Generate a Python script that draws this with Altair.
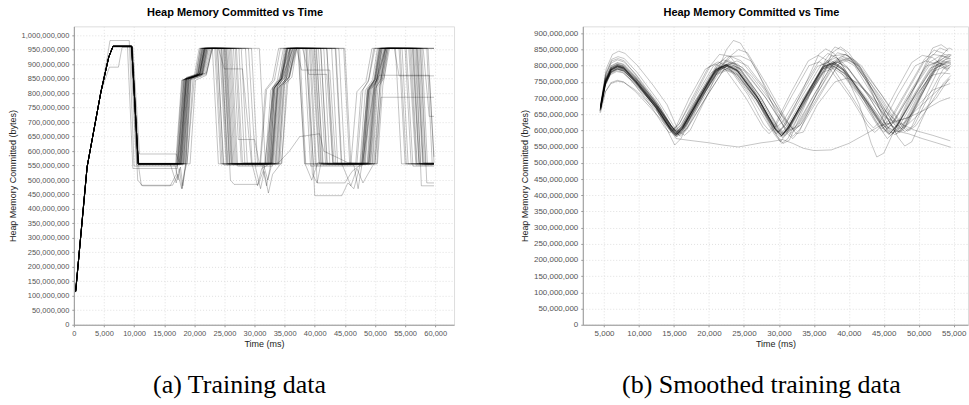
import altair as alt
import pandas as pd

TITLE = "Heap Memory Committed vs Time"
X_TITLE = "Time (ms)"
Y_TITLE = "Heap Memory Committed (bytes)"
CAPTIONS = ["(a) Training data", "(b) Smoothed training data"]

LEFT_X_TICKS = [0, 5000, 10000, 15000, 20000, 25000, 30000, 35000, 40000, 45000, 50000, 55000, 60000]
LEFT_Y_TICKS_M = [0, 50, 100, 150, 200, 250, 300, 350, 400, 450, 500, 550, 600, 650, 700, 750, 800, 850, 900, 950, 1000]
RIGHT_X_TICKS = [5000, 10000, 15000, 20000, 25000, 30000, 35000, 40000, 45000, 50000, 55000]
RIGHT_Y_TICKS_M = [0, 50, 100, 150, 200, 250, 300, 350, 400, 450, 500, 550, 600, 650, 700, 750, 800, 850, 900]

# (time ms, committed heap in millions of bytes)
LEFT_RUNS = [
    [(300,115),(2200,545),(4500,805),(5800,925),(6500,962),(9600,962),(10600,556),(17800,556),(18800,850),(20900,866),(21700,955),(24600,955),(25500,556),(32600,556),(33400,822),(34600,852),(35600,955),(39900,955),(41000,556),(48700,556),(49500,818),(50600,850),(51400,955),(56600,955),(57600,556),(59800,556)],
    [(250,112),(2150,540),(4450,800),(5750,922),(6450,960),(9700,960),(10800,553),(18000,553),(19000,848),(21100,862),(21900,955),(24200,955),(25300,553),(32200,553),(33100,812),(34400,848),(35300,955),(40200,955),(41400,553),(48400,553),(49300,812),(50300,845),(51200,955),(56900,955),(57900,553),(59700,553)],
    [(350,118),(2250,550),(4550,808),(5850,928),(6550,965),(9500,965),(10500,558),(17600,558),(18600,852),(20700,870),(21500,955),(25000,955),(25900,558),(32800,558),(33600,826),(34800,856),(35800,955),(39500,955),(40700,558),(48900,558),(49800,822),(50800,855),(51600,955),(56200,955),(57300,558),(59800,558)],
    [(300,116),(2200,546),(4500,806),(5800,926),(6500,960),(9400,960),(10400,552),(16800,552),(17300,500),(17700,545),(18100,480),(18500,540),(19200,845),(21200,860),(22200,955),(23800,955),(24900,552),(31500,552),(32200,500),(32700,540),(33900,830),(35900,955),(38500,955),(39800,552),(46500,552),(47200,470),(47800,548),(49900,820),(51600,955),(55600,955),(56800,552),(59600,552)],
    [(280,114),(2180,543),(4480,803),(5600,930),(6000,982),(9200,982),(10000,548),(17200,548),(18500,845),(20500,858),(21400,955),(26200,955),(27200,548),(33000,548),(34000,818),(35200,850),(36200,955),(38200,955),(39300,548),(47800,548),(48800,810),(49800,842),(50600,955),(55200,955),(56300,548),(59800,548)],
    [(320,117),(2220,548),(4520,806),(5900,890),(7400,890),(8000,958),(9800,958),(10900,590),(17000,590),(17500,560),(18700,855),(21000,868),(21800,955),(27000,955),(28000,560),(33200,560),(34200,830),(36400,955),(42000,955),(43000,560),(49000,560),(50000,826),(51800,955),(57000,955),(58000,560),(59800,560)],
    [(300,115),(2200,545),(4500,805),(5800,925),(6500,962),(9700,962),(10800,540),(11200,482),(16400,482),(17300,520),(17900,470),(18600,560),(19400,850),(21400,866),(22400,955),(28500,955),(29600,555),(30500,480),(31200,540),(32900,560),(33800,815),(35300,850),(36000,955),(40600,955),(41800,555),(49200,555),(50100,816),(51000,850),(51800,955),(57300,955),(58200,555),(59800,555)],
    [(310,116),(2210,546),(4510,806),(5810,926),(6510,963),(9650,963),(10650,555),(18200,555),(19100,850),(21300,865),(22100,955),(25300,955),(26300,555),(34000,555),(34800,830),(36300,955),(41000,955),(42100,555),(49500,555),(50300,830),(51700,955),(57800,955),(58700,555),(59800,555)],
    [(300,115),(2200,545),(4500,805),(5800,925),(6500,962),(9600,962),(10700,556),(17500,556),(18500,850),(20800,866),(21600,955),(24000,955),(25000,884),(28000,884),(29500,556),(33000,556),(33900,822),(35000,855),(35900,955),(38000,955),(39000,865),(42000,865),(43000,556),(48000,556),(49000,812),(50000,848),(50800,955),(53200,955),(54000,860),(59800,860)],
    [(300,115),(2200,545),(4500,805),(5800,925),(6500,962),(9600,962),(10700,556),(18400,556),(19400,855),(21600,870),(22600,955),(26000,955),(27000,556),(31800,556),(32700,810),(33800,845),(34800,955),(37200,955),(38400,556),(39500,500),(40500,560),(47000,556),(48000,812),(49000,848),(50000,955),(54200,955),(55200,556),(59800,556)],
    [(300,115),(2200,545),(4500,805),(5800,925),(6500,962),(9600,962),(10700,556),(17900,556),(18900,850),(21000,866),(21800,955),(25800,955),(26800,556),(33000,556),(34000,560),(35800,600),(37500,650),(40800,660),(41500,600),(45500,560),(48000,556),(49000,818),(50200,852),(51000,955),(58000,955),(59000,720),(59800,720)],
    [(300,115),(2200,545),(4500,805),(5800,925),(6500,962),(9600,962),(10700,556),(17300,556),(18300,848),(20600,862),(21300,955),(23600,955),(24600,556),(31200,556),(32000,480),(32600,545),(33300,820),(34500,852),(35400,955),(39300,955),(40400,490),(41000,556),(47500,556),(48400,810),(49600,846),(50400,955),(55800,955),(56900,556),(59800,556)],
    [(300,115),(2200,545),(4500,805),(5800,925),(6500,962),(9600,962),(10700,556),(18100,556),(19000,850),(21200,866),(22000,955),(29500,955),(30500,556),(33800,556),(34600,826),(35800,858),(36800,955),(44000,955),(45000,556),(50000,556),(51000,786),(58000,786),(59800,786)],
    [(300,115),(2200,545),(4500,805),(5800,925),(6500,962),(9600,962),(10700,556),(17700,556),(18700,852),(20900,868),(21700,955),(24800,955),(25800,556),(32400,556),(33200,820),(34400,850),(35400,955),(40300,955),(41300,556),(48300,556),(49200,815),(50400,850),(51200,955),(56400,955),(57400,556),(59800,556)],
    [(300,115),(2200,545),(4500,805),(5800,925),(6500,962),(9600,962),(10700,556),(17600,556),(18600,850),(20800,866),(21600,955),(25200,955),(26200,556),(32000,556),(33000,818),(34200,850),(35000,955),(38800,955),(40000,446),(44500,446),(45500,490),(46500,470),(47600,556),(48800,815),(50000,848),(50800,955),(56800,955),(57700,480),(59800,480)],
    [(300,115),(2200,545),(4500,805),(5800,925),(6500,962),(9600,962),(10700,556),(18600,556),(19500,852),(21800,868),(22800,955),(27800,955),(28800,556),(33400,556),(34300,826),(35500,858),(36400,955),(42800,955),(43800,556),(49600,556),(50500,822),(51500,852),(52200,955),(58600,955),(59500,556),(59800,556)],
    [(300,115),(2200,545),(4500,805),(5800,925),(6500,962),(9600,962),(10700,556),(17400,556),(18400,848),(20500,862),(21200,955),(24400,955),(25400,556),(32700,556),(33700,822),(34900,855),(35900,955),(40000,955),(41100,556),(48100,556),(48900,810),(50000,845),(50900,955),(56000,955),(57000,556),(59800,556)],
    [(300,115),(2200,545),(4500,805),(5800,925),(6500,962),(9600,962),(10700,556),(18300,556),(19200,852),(21400,866),(22300,955),(25600,955),(26600,556),(32300,556),(33200,816),(34500,850),(35500,955),(41500,955),(42500,556),(48800,556),(49700,820),(50700,862),(57500,862),(59000,862),(59800,580)],
    [(300,115),(2200,545),(4500,805),(5800,925),(6500,962),(9600,962),(10700,556),(17000,556),(18000,845),(20300,860),(21000,955),(23900,955),(24800,556),(31000,556),(32000,812),(33300,845),(34300,955),(37500,955),(38500,556),(46000,556),(47000,805),(48500,840),(49500,955),(54500,955),(55500,556),(59800,556)],
    [(300,115),(2200,545),(4500,805),(5800,925),(6500,962),(9600,962),(10700,556),(16000,556),(17000,490),(17500,540),(18000,470),(18400,530),(18800,560),(20000,850),(22000,866),(23000,955),(29000,955),(30200,540),(31000,470),(31600,530),(32300,455),(33000,520),(34500,560),(35500,830),(37000,955),(43500,955),(44500,556),(46000,480),(47000,540),(48000,490),(49800,556),(50800,820),(52000,955),(58800,955),(59800,560)],
    [(300,115),(2200,545),(4500,805),(5800,925),(6500,962),(9600,962),(10700,556),(17800,556),(18700,850),(20900,866),(21700,955),(25100,955),(26100,556),(32900,556),(33800,824),(35100,855),(36000,955),(39700,955),(40800,556),(49000,556),(49900,820),(50900,852),(51700,955),(57100,955),(58000,556),(59800,556)],
    [(300,115),(2200,545),(4500,805),(5800,925),(6500,962),(9600,962),(10700,556),(18800,556),(19800,856),(22000,870),(23000,955),(24500,955),(25600,556),(34200,556),(35000,830),(36600,955),(39100,955),(40100,556),(50000,556),(50800,826),(52000,955),(56300,955),(57300,556),(59800,556)],
    [(300,115),(2200,545),(4500,805),(5800,925),(6500,962),(8900,962),(9800,540),(17200,540),(18200,845),(20600,862),(21400,955),(30800,955),(31800,556),(34500,556),(35300,830),(36900,955),(45000,955),(46000,556),(50300,556),(51000,826),(52200,955),(59800,955)],
    [(300,115),(2200,545),(4500,805),(5800,925),(6500,962),(9600,962),(10700,556),(17900,556),(18900,850),(21100,866),(21900,955),(26800,955),(27800,556),(32100,556),(33000,818),(34200,850),(35200,955),(42000,955),(43200,556),(47800,556),(48700,812),(49900,848),(50700,955),(59800,955)],
    [(300,115),(2200,545),(4500,805),(5800,925),(6500,962),(9600,962),(10700,556),(19300,556),(20200,845),(22000,862),(22900,955),(27400,955),(28400,556),(34000,556),(34900,828),(36200,855),(37000,955),(43400,955),(44400,556),(50400,556),(51300,826),(52400,955),(59800,955)],
    [(300,115),(2200,545),(4500,805),(5800,925),(6500,962),(9600,962),(10700,556),(16900,556),(17900,845),(20000,858),(20800,955),(23400,955),(24400,556),(30900,556),(31800,812),(33000,845),(34000,955),(37300,955),(38300,556),(46800,556),(47700,805),(48900,840),(49800,955),(53400,955),(54400,556),(59800,556)],
    [(300,115),(2200,545),(4500,805),(5800,925),(6500,962),(9600,962),(10700,556),(18200,556),(19100,850),(21300,866),(22100,955),(26500,955),(27300,640),(30000,640),(30800,556),(33500,556),(34400,824),(35700,855),(36600,955),(41000,955),(42000,556),(49300,556),(50200,822),(51300,852),(52000,955),(57500,955),(58400,556),(59800,556)],
    [(300,115),(2200,545),(4500,805),(5800,925),(6500,962),(9600,962),(10700,556),(17700,556),(18700,850),(20900,866),(21700,955),(25400,955),(26400,556),(32500,556),(33400,820),(34600,852),(35500,955),(37000,955),(37800,880),(42500,880),(43500,556),(49100,556),(50000,818),(51000,850),(51800,955),(55000,955),(56000,556),(59800,556)],
    [(300,115),(2200,545),(4500,805),(5800,925),(6500,962),(9600,962),(10600,500),(11400,480),(16000,480),(17000,520),(18300,848),(20400,862),(21200,955),(24900,955),(26000,500),(26600,485),(30600,485),(31600,540),(33200,815),(34400,850),(35300,955),(38600,955),(39600,520),(40400,490),(45000,490),(46200,530),(47800,556),(48900,810),(50100,846),(51000,955),(57600,955),(58600,490),(59800,490)],
    [(300,115),(2200,545),(4500,805),(5800,925),(6500,962),(9600,962),(10700,556),(17100,556),(18100,846),(20200,860),(21000,955),(23000,955),(24000,556),(33600,556),(34500,826),(35800,856),(36700,955),(44800,955),(45800,556),(48200,556),(49100,812),(50300,846),(51100,955),(54000,955),(55000,556),(59800,556)],
]

RIGHT_RUNS = [
    [(4500,672),(5200,752),(6000,790),(6900,800),(7800,794),(9500,750),(12500,670),(14600,605),(15300,590),(16200,612),(18500,700),(21000,790),(22500,805),(24000,788),(27000,700),(29600,605),(30500,588),(31400,612),(34000,710),(36500,800),(38000,810),(39500,785),(42500,700),(45200,610),(46000,595),(47000,618),(49500,710),(52000,795),(53500,810),(54500,812)],
    [(4400,660),(5100,740),(5900,775),(6800,785),(7700,780),(9400,742),(12400,665),(14400,600),(15200,582),(16100,605),(18300,690),(20800,780),(22300,795),(23800,780),(26800,695),(29300,600),(30200,580),(31100,605),(33800,700),(36200,792),(37700,800),(39200,778),(42200,695),(44900,605),(45700,588),(46700,610),(49200,700),(51700,785),(53200,800),(54400,795)],
    [(4600,685),(5300,775),(6100,815),(7000,822),(7900,815),(9600,770),(12600,680),(14700,612),(15400,595),(16300,620),(18700,710),(21200,800),(22700,818),(24200,800),(27200,710),(29800,610),(30700,590),(31600,618),(34200,720),(36700,812),(38200,825),(39700,798),(42700,710),(45400,615),(46200,600),(47200,625),(49700,720),(52200,808),(53700,825),(54600,822)],
    [(4500,668),(5200,720),(6000,748),(6900,755),(7800,750),(9500,720),(12500,650),(14600,598),(15300,582),(16200,600),(18500,690),(21000,775),(22500,790),(24000,775),(27000,690),(29600,598),(30500,578),(31400,600),(34000,700),(36500,788),(38000,798),(39500,775),(42500,690),(45200,600),(46000,585),(47000,605),(49500,700),(52000,782),(53500,795),(54400,790)],
    [(4600,690),(5300,790),(6200,835),(7100,845),(8000,838),(9800,800),(12000,740),(14000,680),(15600,600),(16500,585),(17300,600),(20000,720),(22500,850),(23500,878),(24500,870),(27000,780),(29500,660),(31200,590),(32000,575),(33000,600),(35500,720),(37600,840),(38800,858),(40000,840),(42500,760),(44500,660),(45500,600),(46300,590),(47500,640),(50000,760),(52000,855),(53200,865),(54200,850)],
    [(4500,665),(5200,745),(6000,782),(6900,792),(7800,787),(9500,745),(12500,668),(14500,600),(15300,575),(17000,570),(20000,562),(22000,555),(24200,549),(26000,556),(27500,562),(29000,566),(30500,572),(32000,560),(33500,545),(35000,538),(37500,540),(40000,560),(42500,590),(44500,615),(46500,625),(48500,640),(51000,690),(53000,730),(54500,760)],
    [(4400,655),(5100,735),(5900,772),(6800,782),(7700,778),(9300,748),(12300,675),(14200,615),(15000,598),(15900,615),(18000,690),(20500,772),(22000,790),(23500,780),(26500,700),(29000,615),(29900,595),(30800,615),(33500,712),(36000,802),(37500,815),(39000,795),(42000,710),(44600,625),(45400,605),(46400,625),(49000,720),(51500,800),(53000,815),(54300,812)],
    [(4500,675),(5200,758),(6000,795),(6900,805),(7800,800),(9600,760),(12800,680),(14800,608),(15600,590),(16500,612),(19000,700),(21800,800),(23200,828),(24600,815),(27800,730),(30500,630),(31600,600),(32500,615),(35000,710),(37500,800),(39200,820),(40800,800),(43500,705),(46000,620),(46900,600),(47800,620),(50200,720),(52500,800),(53800,820),(54600,815)],
    [(4500,670),(5200,748),(6000,786),(6900,796),(7800,790),(9400,752),(12300,672),(14300,605),(15100,588),(16000,608),(18000,690),(20300,778),(21800,798),(23300,785),(26200,700),(28700,610),(29600,590),(30500,610),(33000,705),(35500,798),(37000,810),(38500,790),(41500,705),(44200,612),(45000,595),(46000,615),(48500,710),(51000,798),(52500,812),(54000,800)],
    [(4500,668),(5200,750),(6000,788),(6900,798),(7800,793),(9500,755),(12500,672),(14600,600),(15400,580),(16300,598),(18700,690),(21200,785),(22700,800),(24200,782),(27200,690),(29700,585),(30600,560),(31500,570),(34000,690),(36700,820),(38000,858),(39400,845),(42300,760),(44800,650),(45600,620),(46500,630),(49000,720),(51500,810),(53000,830),(54500,828)],
    [(4500,672),(5200,752),(6000,790),(6900,800),(7800,795),(9500,755),(12500,675),(14500,606),(15300,588),(16200,608),(18500,695),(21000,785),(22500,800),(24000,785),(27000,700),(29500,605),(30400,585),(31300,610),(34000,710),(36500,798),(38000,805),(39600,780),(42500,690),(45000,615),(46500,600),(48500,590),(50500,575),(52500,562),(54600,548)],
    [(4500,670),(5200,750),(6000,788),(6900,798),(7800,792),(9500,752),(12500,670),(14500,604),(15300,586),(16200,606),(18500,695),(21000,788),(22500,802),(24000,786),(27000,700),(29500,604),(30400,584),(31300,608),(33800,705),(36300,798),(37800,812),(39200,790),(41500,680),(43200,560),(44000,518),(45000,530),(46500,600),(49000,720),(51500,820),(53000,855),(54200,845)],
    [(4500,674),(5200,755),(6000,792),(6900,802),(7800,797),(9500,758),(12500,676),(14600,608),(15400,590),(16300,610),(18600,698),(21100,788),(22600,805),(24100,790),(27100,705),(29700,608),(30600,588),(31500,612),(34500,715),(37200,805),(39000,830),(40500,818),(43500,720),(46300,625),(47200,600),(48200,620),(50500,715),(52800,800),(54000,812),(54600,810)],
    [(4500,666),(5200,744),(6000,782),(6900,792),(7800,787),(9500,748),(12500,668),(14500,602),(15300,584),(16200,604),(18500,692),(21000,782),(22500,797),(24000,782),(27000,696),(29500,602),(30400,582),(31300,606),(33800,702),(36300,795),(37800,808),(39300,786),(42300,700),(45000,608),(45800,592),(47500,600),(50000,650),(52500,700),(54300,760)],
    [(4500,678),(5200,760),(6000,798),(6900,808),(7800,803),(9400,768),(12200,690),(14100,625),(14900,605),(15800,622),(17800,700),(20200,800),(21500,835),(23000,830),(26000,740),(28600,640),(29600,610),(30500,625),(33000,715),(35600,810),(37000,838),(38400,822),(41300,730),(44000,640),(44800,615),(45800,632),(48300,725),(50800,820),(52200,848),(53600,838)],
    [(4500,662),(5200,742),(6000,780),(6900,790),(7800,785),(9500,750),(12600,672),(14800,610),(15700,592),(16600,610),(19200,700),(21800,790),(23300,808),(24800,795),(28000,705),(30800,612),(31800,592),(32700,612),(35500,715),(38200,810),(39700,822),(41300,800),(44500,705),(47200,612),(48000,596),(49000,612),(51300,720),(53300,810),(54500,830)],
    [(4500,668),(5200,746),(6000,784),(6900,794),(7800,789),(9500,752),(12400,670),(14300,590),(15100,555),(16000,575),(18200,680),(20800,782),(22300,800),(23800,785),(26800,695),(29300,590),(30200,565),(31100,590),(33600,700),(36200,795),(37600,808),(39000,790),(42000,700),(44700,600),(45500,575),(46500,595),(49000,700),(51600,792),(53000,808),(54400,800)],
    [(4500,670),(5200,750),(6000,788),(6900,798),(7800,792),(9600,758),(12600,680),(14600,612),(15400,596),(16300,614),(18800,702),(21300,792),(22800,806),(24300,792),(27300,705),(29900,612),(30800,592),(31700,614),(34200,712),(36800,800),(38300,812),(39800,795),(42800,712),(45300,640),(46500,628),(48500,640),(51000,665),(53000,690),(54500,702)],
    [(4500,676),(5200,756),(6000,794),(6900,804),(7800,798),(9500,762),(12500,680),(14500,612),(15300,594),(16200,614),(18400,700),(20900,790),(22400,804),(23900,790),(26900,705),(29400,610),(30300,590),(31200,614),(33700,708),(36200,790),(37700,798),(39500,775),(42500,720),(45000,665),(47000,625),(49500,600),(52000,585),(54500,568)],
    [(4500,664),(5200,742),(6000,779),(6900,789),(7800,784),(9500,748),(12500,668),(14600,600),(15400,582),(16300,602),(18600,692),(21100,785),(22600,800),(24100,785),(27100,698),(29600,602),(30500,582),(31400,604),(34000,705),(36700,805),(38400,840),(40000,830),(42500,760),(45500,640),(46800,590),(47800,600),(50000,700),(52300,805),(53600,835),(54600,832)],
    [(4500,680),(5200,762),(6000,800),(6900,810),(7800,805),(9400,770),(12300,690),(14400,618),(15200,598),(16100,618),(18100,705),(20600,798),(22100,818),(23600,805),(26600,715),(29100,618),(30000,595),(30900,615),(33300,720),(35700,835),(36700,852),(37900,838),(40900,740),(43800,630),(44700,605),(45700,620),(48200,715),(50700,810),(52000,835),(53500,830),(54500,820)],
    [(4500,668),(5200,748),(6000,786),(6900,796),(7800,791),(9600,752),(12700,672),(14700,604),(15500,586),(16400,606),(18800,695),(21400,790),(22900,808),(24400,792),(27500,700),(30000,602),(30900,584),(31800,606),(34300,705),(36900,800),(38400,812),(39900,790),(43000,700),(45700,605),(46600,586),(47600,606),(50000,705),(52500,795),(53900,808),(54600,806)],
    [(4500,655),(5200,720),(6000,745),(6900,752),(7800,749),(9500,725),(12500,660),(14500,605),(15300,590),(16200,608),(18500,690),(21000,772),(22500,785),(24000,772),(27000,690),(29500,602),(30400,585),(31300,605),(33800,700),(36300,780),(37800,792),(39300,770),(42300,690),(45000,605),(45800,590),(46800,610),(49300,700),(51800,770),(53300,778),(54500,775)],
    [(4500,680),(5200,770),(6000,808),(6900,818),(7800,812),(9500,775),(12500,690),(14600,615),(15400,597),(16300,615),(18600,705),(21000,800),(22500,828),(24500,830),(26000,815),(28500,720),(30800,630),(31800,600),(32800,620),(35300,720),(37800,810),(39300,825),(40800,805),(43800,715),(46300,625),(47200,605),(48200,625),(50700,725),(53000,815),(54300,835),(54700,833)],
    [(4500,670),(5200,750),(6000,788),(6900,798),(7800,793),(9800,750),(13000,665),(15000,600),(15800,585),(16800,605),(19500,700),(22500,800),(24000,815),(25500,800),(28500,715),(31200,625),(32200,600),(33200,620),(36000,720),(38800,812),(40200,825),(41800,800),(44800,705),(47500,615),(48400,598),(49400,618),(51500,710),(53500,790),(54600,805)],
    [(4400,662),(5100,742),(5900,780),(6800,790),(7700,784),(9000,752),(11800,672),(13600,612),(14400,592),(15300,612),(17200,700),(19500,790),(20900,805),(22300,790),(25300,700),(27700,610),(28600,590),(29500,612),(31800,705),(34300,800),(35800,812),(37300,790),(40300,700),(42800,612),(43700,594),(44700,614),(47000,710),(49500,800),(51000,815),(52500,805),(54200,785)],
    [(4500,672),(5200,752),(6000,790),(6900,800),(7800,794),(9500,756),(12500,675),(14600,606),(15400,588),(16300,608),(18600,700),(21100,795),(22600,812),(24100,805),(26000,770),(28500,700),(31000,630),(32500,590),(33500,595),(35500,680),(38000,750),(39800,762),(41500,745),(44000,680),(46300,610),(47200,595),(48200,615),(50400,710),(52600,795),(54000,810)],
    [(4500,668),(5200,748),(6000,786),(6900,796),(7800,790),(9500,752),(12500,672),(14500,604),(15300,586),(16200,606),(18500,695),(21000,788),(22500,802),(24000,786),(27000,700),(29500,604),(30400,584),(31300,608),(33800,705),(36000,790),(37500,830),(39500,835),(41500,800),(44500,680),(47000,580),(48000,552),(49000,565),(51000,660),(53000,760),(54600,800)],
    [(4500,670),(5200,752),(6000,790),(6900,800),(7800,795),(9500,752),(12500,672),(14500,606),(15300,588),(16200,608),(18500,695),(21000,788),(22500,802),(24000,786),(27000,690),(29500,590),(30400,560),(31300,575),(33800,690),(36300,790),(37800,805),(39300,785),(42300,700),(45000,625),(46500,610),(48000,625),(50000,680),(52000,725),(54500,745)],
    [(4500,676),(5200,756),(6000,794),(6900,804),(7800,798),(9400,765),(12200,685),(14000,620),(14800,600),(15700,618),(17600,700),(19900,795),(21300,812),(22700,798),(25600,710),(27800,620),(28600,600),(29500,620),(31800,720),(34200,815),(35600,832),(37000,815),(40000,720),(42600,630),(43500,608),(44400,625),(46700,720),(49000,810),(50500,832),(52000,825),(54000,790)],
    [(4500,664),(5200,742),(6000,779),(6900,789),(7800,784),(9700,748),(12900,668),(15100,600),(15900,582),(16800,602),(19300,692),(22000,785),(23500,800),(25000,785),(28200,698),(31000,602),(32000,582),(33000,604),(35800,705),(38500,805),(40000,818),(41500,800),(44700,710),(47600,620),(48600,600),(49600,615),(51600,680),(53500,745),(54600,770)],
    [(4600,688),(5300,780),(6100,820),(7000,828),(7900,822),(9700,780),(12800,690),(15000,612),(15900,590),(16800,605),(19500,720),(22500,820),(24200,850),(25500,840),(28300,740),(31000,635),(32000,605),(33000,615),(35500,715),(38000,812),(39500,835),(41000,815),(44000,715),(46600,625),(47500,605),(48500,622),(50800,725),(53000,825),(54300,855),(54800,850)],
]

MB = 1_000_000


def to_frame(runs, prefix):
    rows = []
    for i, pts in enumerate(runs):
        for t, v in pts:
            rows.append({"run": f"{prefix}{i}", "t": t, "v": v * MB})
    return pd.DataFrame(rows)


def panel(df, xdom, ydom, xticks, yticks_m, w, h, title_dx, caption, cap_x, label_size, opacity):
    axis_common = dict(
        labelFont="Liberation Sans", labelFontSize=label_size, labelColor="#555",
        titleFont="Liberation Sans", titleFontSize=9, titleFontWeight="normal", titleColor="#222",
        tickSize=2, tickColor="#999", domainColor="#999", domainWidth=1,
        gridColor="#e0e0e0", gridDash=[1, 2], labelFlush=False, format=",d",
        labelPadding=3,
    )
    lines = alt.Chart(df).mark_line(color="black", strokeWidth=1, opacity=opacity, clip=True).encode(
        x=alt.X("t:Q", scale=alt.Scale(domain=xdom, nice=False, zero=False),
                axis=alt.Axis(title=X_TITLE, values=xticks, titlePadding=2, **axis_common)),
        y=alt.Y("v:Q", scale=alt.Scale(domain=ydom, nice=False),
                axis=alt.Axis(title=Y_TITLE, values=[m * MB for m in yticks_m], titlePadding=4, **axis_common)),
        detail="run:N",
    )
    cap = alt.Chart(pd.DataFrame({"c": [caption]})).mark_text(
        font="Liberation Serif", fontSize=26, baseline="alphabetic", align="center", color="black"
    ).encode(x=alt.value(cap_x), y=alt.value(h + 68), text="c:N")
    return alt.layer(lines, cap).properties(
        width=w, height=h,
        title=alt.TitleParams(TITLE, font="Liberation Sans", fontSize=11, fontWeight="bold",
                              color="black", anchor="middle", frame="group", dx=title_dx, offset=8),
    )


left = panel(to_frame(LEFT_RUNS, "a"), [0, 63130], [0, 1031 * MB], LEFT_X_TICKS, LEFT_Y_TICKS_M,
             381, 299, -29, CAPTIONS[0], 166, 7.5, 0.24)
right = panel(to_frame(RIGHT_RUNS, "b"), [1960, 57040], [0, 921.6 * MB], RIGHT_X_TICKS, RIGHT_Y_TICKS_M,
              386, 299, -24, CAPTIONS[1], 179, 8, 0.23)

chart = alt.hconcat(left, right, spacing=65).properties(
    padding={"left": 7, "top": 6, "right": 0, "bottom": 0}
).configure_view(stroke="#aaa", strokeWidth=1).configure(background="white")

chart.save("out.html", embed_options={"renderer": "svg", "actions": False})
